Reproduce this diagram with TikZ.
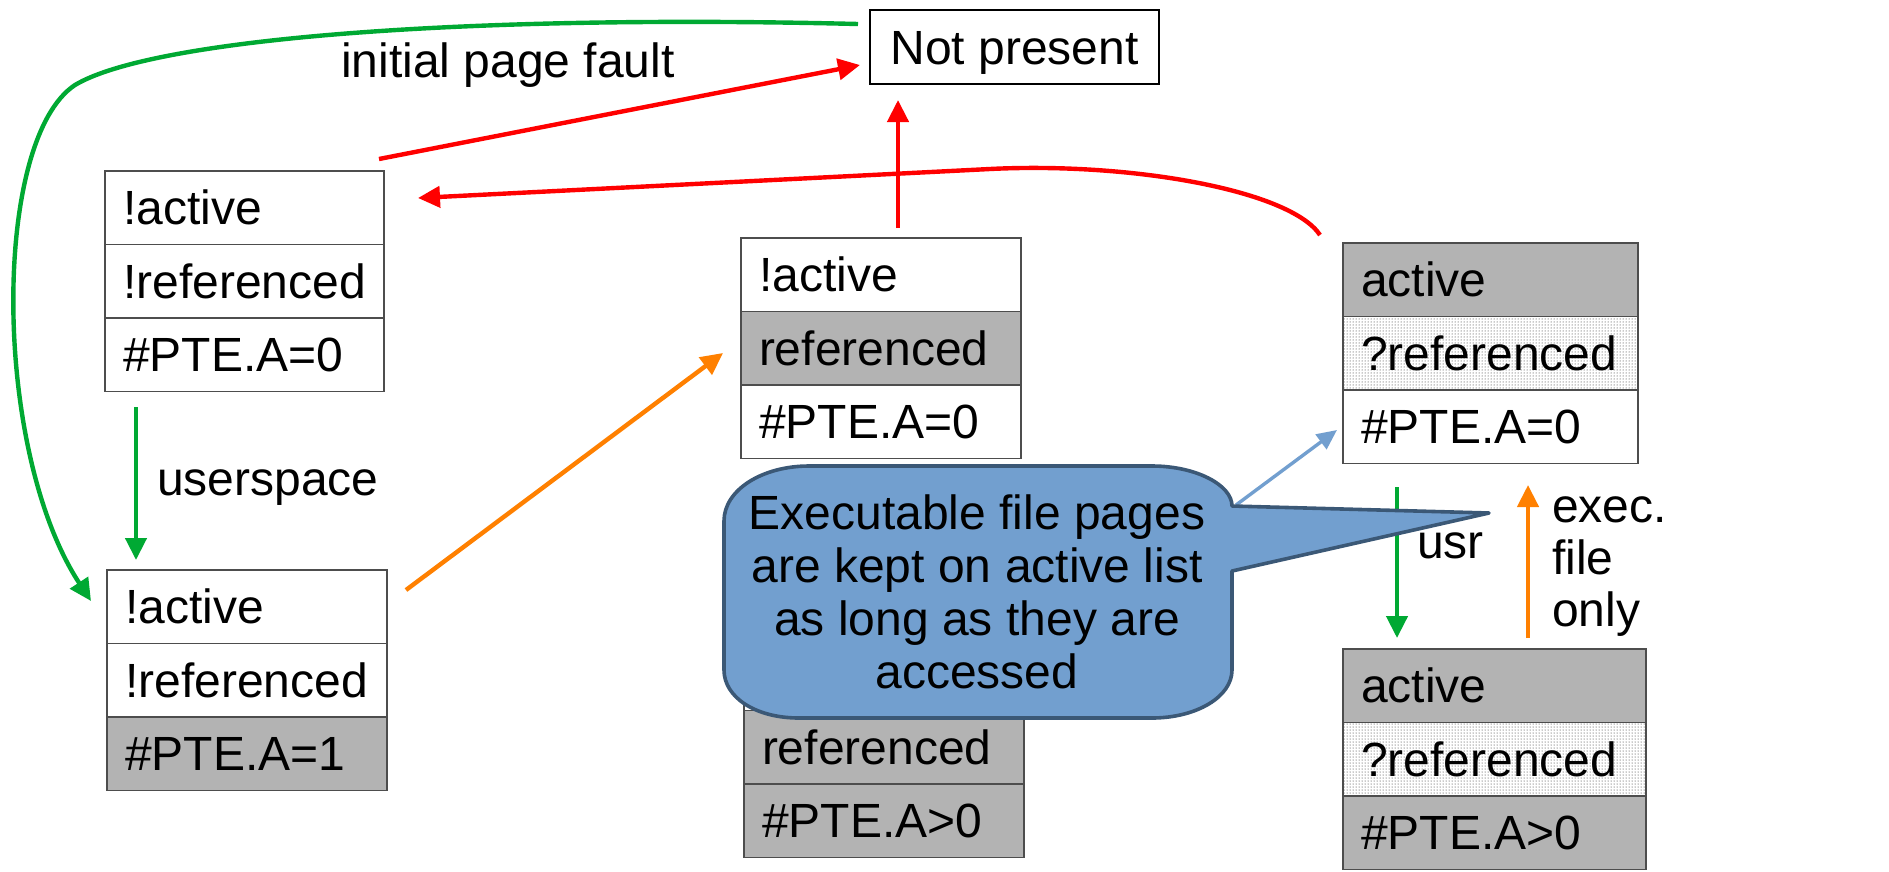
\documentclass[tikz,border=0pt]{standalone}
\usepackage{fontspec}
\setmainfont{Liberation Sans}
\usetikzlibrary{arrows.meta,patterns}
\definecolor{cellgray}{HTML}{B3B3B3}
\definecolor{cellline}{HTML}{4D4D4D}
\definecolor{calloutblue}{HTML}{729FCF}
\definecolor{calloutedge}{HTML}{3B5876}
\definecolor{flowgreen}{HTML}{00A933}
\definecolor{flowred}{HTML}{FF0000}
\definecolor{floworange}{HTML}{FF8000}
\begin{document}
\begin{tikzpicture}[x=1pt,y=-1pt,
  every node/.style={font=\fontsize{48}{53}\selectfont},
  cell/.style={draw=cellline, line width=1.4pt, anchor=north west, outer sep=0pt,
    minimum height=73.5pt, inner xsep=18pt, inner ysep=0pt,
    text height=34pt, text depth=0pt, align=left, text width=#1},
  shaded/.style={fill=cellgray},
  dotted cell/.style={pattern=dots, pattern color=black!90},
  lbl/.style={anchor=base west, inner sep=0pt},
  flow/.style={line width=4.4pt, -{Triangle[length=22pt,width=21pt]}},
]
\useasboundingbox (0,0) rectangle (1889,871);

% --- state boxes -------------------------------------------------------
\node[draw=black, line width=1.7pt, minimum width=289pt, minimum height=74pt,
      text height=34pt, text depth=0pt, inner ysep=0pt,
      anchor=north west, outer sep=0pt] (np) at (870,10) {Not present};

\node[cell=243pt] (a1) at (105,171) {!active};
\node[cell=243pt] (a2) at (a1.south west) {!referenced};
\node[cell=243pt] (a3) at (a2.south west) {\#PTE.A=0};

\node[cell=244pt] (b1) at (107,570) {!active};
\node[cell=244pt] (b2) at (b1.south west) {!referenced};
\node[cell=244pt, shaded] (b3) at (b2.south west) {\#PTE.A=1};

\node[cell=244pt] (c1) at (741,238) {!active};
\node[cell=244pt, shaded] (c2) at (c1.south west) {referenced};
\node[cell=244pt] (c3) at (c2.south west) {\#PTE.A=0};

\node[cell=244pt] (d1) at (744,637) {};
\node[cell=244pt, shaded] (d2) at (d1.south west) {referenced};
\node[cell=244pt, shaded] (d3) at (d2.south west) {\#PTE.A>0};

\node[cell=259pt, shaded] (e1) at (1343,243) {active};
\node[cell=259pt, dotted cell] (e2) at (e1.south west) {?referenced};
\node[cell=259pt] (e3) at (e2.south west) {\#PTE.A=0};

\node[cell=267pt, shaded] (f1) at (1343,649) {active};
\node[cell=267pt, dotted cell] (f2) at (f1.south west) {?referenced};
\node[cell=267pt, shaded] (f3) at (f2.south west) {\#PTE.A>0};

% --- connector end points -----------------------------------------------
\coordinate (gStart) at (858,24);
\coordinate (gEnd)   at (91,601);
\coordinate (rAfrom) at (379,159);
\coordinate (rAto)   at (860,65);
\coordinate (rCfrom) at (898,228);
\coordinate (rCto)   at (898,100);
\coordinate (rEfrom) at (1320,235);
\coordinate (rEto)   at (418,198);
\coordinate (uFrom)  at (136,407);
\coordinate (uTo)    at (136,560);
\coordinate (oFrom)  at (406,590);
\coordinate (oTo)    at (723,353);
\coordinate (sFrom)  at (1397,487);
\coordinate (sTo)    at (1397,638);
\coordinate (xFrom)  at (1528,638);
\coordinate (xTo)    at (1528,485);
\coordinate (bFrom)  at (1236,505);
\coordinate (bTo)    at (1337,430);

% --- transitions --------------------------------------------------------
\draw[flow, flowgreen] (gStart) .. controls (450,14) and (150,40) .. (75,85)
      .. controls (-8,140) and (-8,450) .. (gEnd);
\draw[flow, flowred] (rAfrom) -- (rAto);
\draw[flow, flowred] (rCfrom) -- (rCto);
\draw[flow, flowred] (rEfrom) .. controls (1290,190) and (1130,162) .. (990,169) -- (rEto);
\draw[flow, flowgreen] (uFrom) -- (uTo);
\draw[flow, floworange] (oFrom) -- (oTo);
\draw[flow, flowgreen] (sFrom) -- (sTo);
\draw[flow, floworange] (xFrom) -- (xTo);
\draw[line width=3.4pt, calloutblue, -{Triangle[length=20pt,width=18pt]}] (bFrom) -- (bTo);

% --- labels -------------------------------------------------------------
\node[lbl] (lFault) at (341,77) {initial page fault};
\node[lbl] (lUser)  at (157,495) {userspace};
\node[lbl] (lUsr)   at (1417,558) {usr};
\node[lbl] (lExec)  at (1552,522) {exec.};
\node[lbl] (lFile)  at (1552,574) {file};
\node[lbl] (lOnly)  at (1552,626) {only};

% --- callout ------------------------------------------------------------
\draw[calloutedge, fill=calloutblue, line width=3.6pt, line join=round]
  (809,466) -- (1152,466)
  .. controls (1196,466) and (1232,485) .. (1232,506)
  -- (1489,513) -- (1232,571)
  -- (1232,670) .. controls (1232,697) and (1196,718) .. (1152,718)
  -- (799,718) .. controls (755,718) and (724,697) .. (724,670)
  -- (724,521) .. controls (724,490) and (762,466) .. (809,466) -- cycle;
\node[align=center, inner sep=0pt, anchor=base] (note) at (977,688)
  {Executable file pages\\are kept on active list\\as long as they are\\accessed};
\end{tikzpicture}
\end{document}
